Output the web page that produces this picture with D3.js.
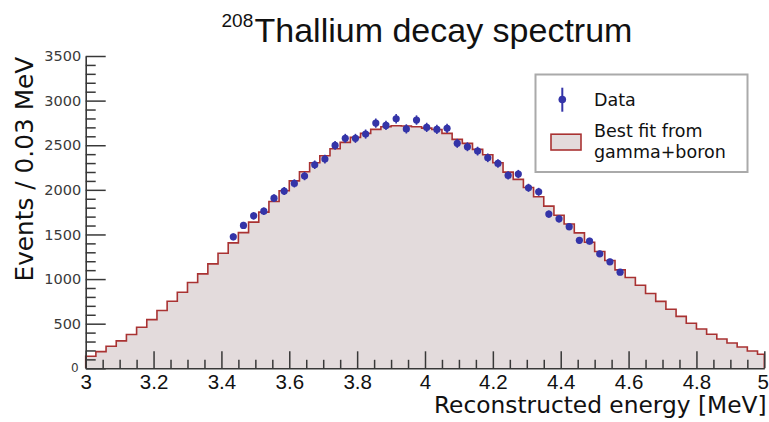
<!DOCTYPE html>
<html>
<head>
<meta charset="utf-8">
<script src="https://cdn.jsdelivr.net/npm/d3@7/dist/d3.min.js"></script>
<style>
  html, body { margin: 0; padding: 0; background: #ffffff; }
  svg { display: block; }
</style>
</head>
<body>
<svg id="chart" width="769" height="422"></svg>
<script>
// Histogram binning (MeV)
const binStart = 3.0;
const binWidth = 0.03;

// Best-fit model (gamma + boron), events per 0.03 MeV bin starting at 3.00 MeV
const fitCounts = [
  135, 187, 247, 307, 378, 460, 546, 647, 752, 853,
  961, 1058, 1170, 1290, 1406, 1520, 1638, 1750, 1870, 1989,
  2101, 2202, 2303, 2382, 2460, 2532, 2588, 2633, 2678, 2707,
  2718, 2715, 2707, 2692, 2677, 2633, 2566, 2521, 2453, 2393,
  2303, 2199, 2117, 2027, 1922, 1817, 1715, 1618, 1518, 1412,
  1309, 1208, 1103, 1017, 930, 838, 750, 662, 582, 505,
  441, 381, 329, 284, 239, 194, 157
];

// Measured data, first point sits in bin 14 (3.42-3.45 MeV)
const dataFirstBin = 14;
const dataCounts = [
  1473, 1601, 1709, 1761, 1907, 1986, 2072, 2154, 2281, 2345,
  2498, 2577, 2577, 2625, 2748, 2722, 2797, 2683, 2782, 2700,
  2677, 2689, 2521, 2483, 2434, 2359, 2296, 2162, 2177, 2023,
  1978, 1728, 1675, 1587, 1434, 1425, 1283, 1193, 1077
];

// Axis ticks
const xMajorTicks = [3, 3.2, 3.4, 3.6, 3.8, 4, 4.2, 4.4, 4.6, 4.8, 5];
const xMinorTicks = d3.range(3, 5.0001, 0.05).map(v => +v.toFixed(2));
const yMajorTicks = [0, 500, 1000, 1500, 2000, 2500, 3000, 3500];
const yMinorTicks = d3.range(0, 3501, 100);

const xDomain = [3, 5];
const yDomain = [0, 3500];

const svg = d3.select("#chart");
const x = d3.scaleLinear().domain(xDomain).range([85.7, 764.3]);
const y = d3.scaleLinear().domain(yDomain).range([368.3, 56]);

const fillColor = "#e3dbdc";
const lineColor = "#a93232";
const dataColor = "#3434a8";
const axisColor = "#383838";

// Bins, the last one truncated at the upper edge of the axis
const bins = fitCounts.map((v, i) => {
  const lo = binStart + i * binWidth;
  return { lo: lo, hi: Math.min(lo + binWidth, xDomain[1]), v: v };
});

// Filled model histogram
const stepPts = bins.map(b => [b.lo, b.v]);
stepPts.push([bins[bins.length - 1].hi, bins[bins.length - 1].v]);

svg.append("path")
  .attr("d", d3.area()
    .curve(d3.curveStepAfter)
    .x(d => x(d[0]))
    .y0(y(0))
    .y1(d => y(d[1]))(stepPts))
  .attr("fill", fillColor)
  .attr("stroke", "none");

const outlinePts = [[binStart, 0]].concat(stepPts, [[bins[bins.length - 1].hi, 0]]);
svg.append("path")
  .attr("d", d3.line()
    .curve(d3.curveStepAfter)
    .x(d => x(d[0]))
    .y(d => y(d[1]))(outlinePts))
  .attr("fill", "none")
  .attr("stroke", lineColor)
  .attr("stroke-width", 1.6);

// Axes with inward ticks
function styleAxis(g) {
  g.selectAll("path.domain").attr("stroke", axisColor).attr("stroke-width", 1.6);
  g.selectAll(".tick line").attr("stroke", axisColor).attr("stroke-width", 1.5);
}

const xAxisG = svg.append("g")
  .attr("transform", `translate(0,${y(0)})`)
  .call(d3.axisBottom(x)
    .tickValues(xMajorTicks)
    .tickSizeInner(-17)
    .tickSizeOuter(0)
    .tickPadding(6.4)
    .tickFormat(d => String(+d.toFixed(1))));
styleAxis(xAxisG);
xAxisG.selectAll("text")
  .attr("fill", "#111")
  .style("font-family", "'Liberation Sans', Arial, sans-serif")
  .style("font-size", "20.5px");
// keep the last label inside the canvas
xAxisG.selectAll(".tick text")
  .filter(d => d === xDomain[1])
  .attr("text-anchor", "end")
  .attr("x", 4);

const xMinorG = svg.append("g")
  .attr("transform", `translate(0,${y(0)})`)
  .call(d3.axisBottom(x)
    .tickValues(xMinorTicks.filter(v => !xMajorTicks.some(m => Math.abs(m - v) < 1e-6)))
    .tickSizeInner(-8.5)
    .tickSizeOuter(0)
    .tickFormat(""));
xMinorG.select("path.domain").remove();
styleAxis(xMinorG);

const yAxisG = svg.append("g")
  .attr("transform", `translate(${x(3)},0)`)
  .call(d3.axisLeft(y)
    .tickValues(yMajorTicks)
    .tickSizeInner(-20)
    .tickSizeOuter(0)
    .tickPadding(4.6)
    .tickFormat(d => d === 0 ? "" : String(d)));
styleAxis(yAxisG);
yAxisG.selectAll("text")
  .attr("fill", "#3a3a3a")
  .style("font-family", "'DejaVu Sans', sans-serif")
  .style("font-size", "14.5px");

const yMinorG = svg.append("g")
  .attr("transform", `translate(${x(3)},0)`)
  .call(d3.axisLeft(y)
    .tickValues(yMinorTicks.filter(v => v % 500 !== 0))
    .tickSizeInner(-10)
    .tickSizeOuter(0)
    .tickFormat(""));
yMinorG.select("path.domain").remove();
styleAxis(yMinorG);

// Zero label of the vertical axis sits in the corner
svg.append("text")
  .attr("x", x(3) - 7)
  .attr("y", y(0) + 4)
  .attr("text-anchor", "end")
  .attr("fill", "#3a3a3a")
  .style("font-family", "'DejaVu Sans', sans-serif")
  .style("font-size", "12px")
  .text(yMajorTicks[0]);

// Data points with statistical error bars
const dataPts = dataCounts.map((v, i) => {
  const lo = binStart + (dataFirstBin + i) * binWidth;
  return { e: lo + binWidth / 2, v: v, err: Math.sqrt(v) };
});

const pts = svg.append("g");
pts.selectAll("line")
  .data(dataPts)
  .join("line")
  .attr("x1", d => x(d.e))
  .attr("x2", d => x(d.e))
  .attr("y1", d => y(d.v - d.err))
  .attr("y2", d => y(d.v + d.err))
  .attr("stroke", dataColor)
  .attr("stroke-width", 1.6);
pts.selectAll("circle")
  .data(dataPts)
  .join("circle")
  .attr("cx", d => x(d.e))
  .attr("cy", d => y(d.v))
  .attr("r", 3.6)
  .attr("fill", dataColor);

// Titles
const title = svg.append("text")
  .attr("x", 221.5)
  .attr("y", 42.3)
  .attr("fill", "#111")
  .style("font-family", "'Liberation Sans', Arial, sans-serif");
title.append("tspan")
  .attr("dy", -15.6)
  .style("font-size", "19px")
  .text("208");
title.append("tspan")
  .attr("x", 254.5)
  .attr("dy", 15.6)
  .style("font-size", "34px")
  .text("Thallium decay spectrum");

svg.append("text")
  .attr("x", 766.5)
  .attr("y", 413)
  .attr("text-anchor", "end")
  .attr("fill", "#111")
  .style("font-family", "'DejaVu Sans', sans-serif")
  .style("font-size", "23.3px")
  .text("Reconstructed energy [MeV]");

svg.append("text")
  .attr("transform", "translate(33.4,56.7) rotate(-90)")
  .attr("text-anchor", "end")
  .attr("fill", "#111")
  .style("font-family", "'DejaVu Sans', sans-serif")
  .style("font-size", "24.8px")
  .text("Events / 0.03 MeV");

// Legend
const legend = svg.append("g");
legend.append("rect")
  .attr("x", 535.5).attr("y", 74.5)
  .attr("width", 212).attr("height", 97.5)
  .attr("fill", "#ffffff")
  .attr("stroke", "#aaaaaa")
  .attr("stroke-width", 2);
legend.append("line")
  .attr("x1", 562.3).attr("x2", 562.3)
  .attr("y1", 87.7).attr("y2", 111.7)
  .attr("stroke", dataColor).attr("stroke-width", 2);
legend.append("circle")
  .attr("cx", 562.3).attr("cy", 99.5).attr("r", 3.8)
  .attr("fill", dataColor);
legend.append("rect")
  .attr("x", 551).attr("y", 134.2)
  .attr("width", 30).attr("height", 15.8)
  .attr("fill", fillColor)
  .attr("stroke", lineColor)
  .attr("stroke-width", 1.6);

const legendText = [
  { t: "Data", y: 105.7 },
  { t: "Best fit from", y: 136.7 },
  { t: "gamma+boron", y: 158.3 }
];
legend.selectAll("text.lab")
  .data(legendText)
  .join("text")
  .attr("class", "lab")
  .attr("x", 594)
  .attr("y", d => d.y)
  .attr("fill", "#111")
  .style("font-family", "'DejaVu Sans', sans-serif")
  .style("font-size", "17.5px")
  .text(d => d.t);
</script>
</body>
</html>
